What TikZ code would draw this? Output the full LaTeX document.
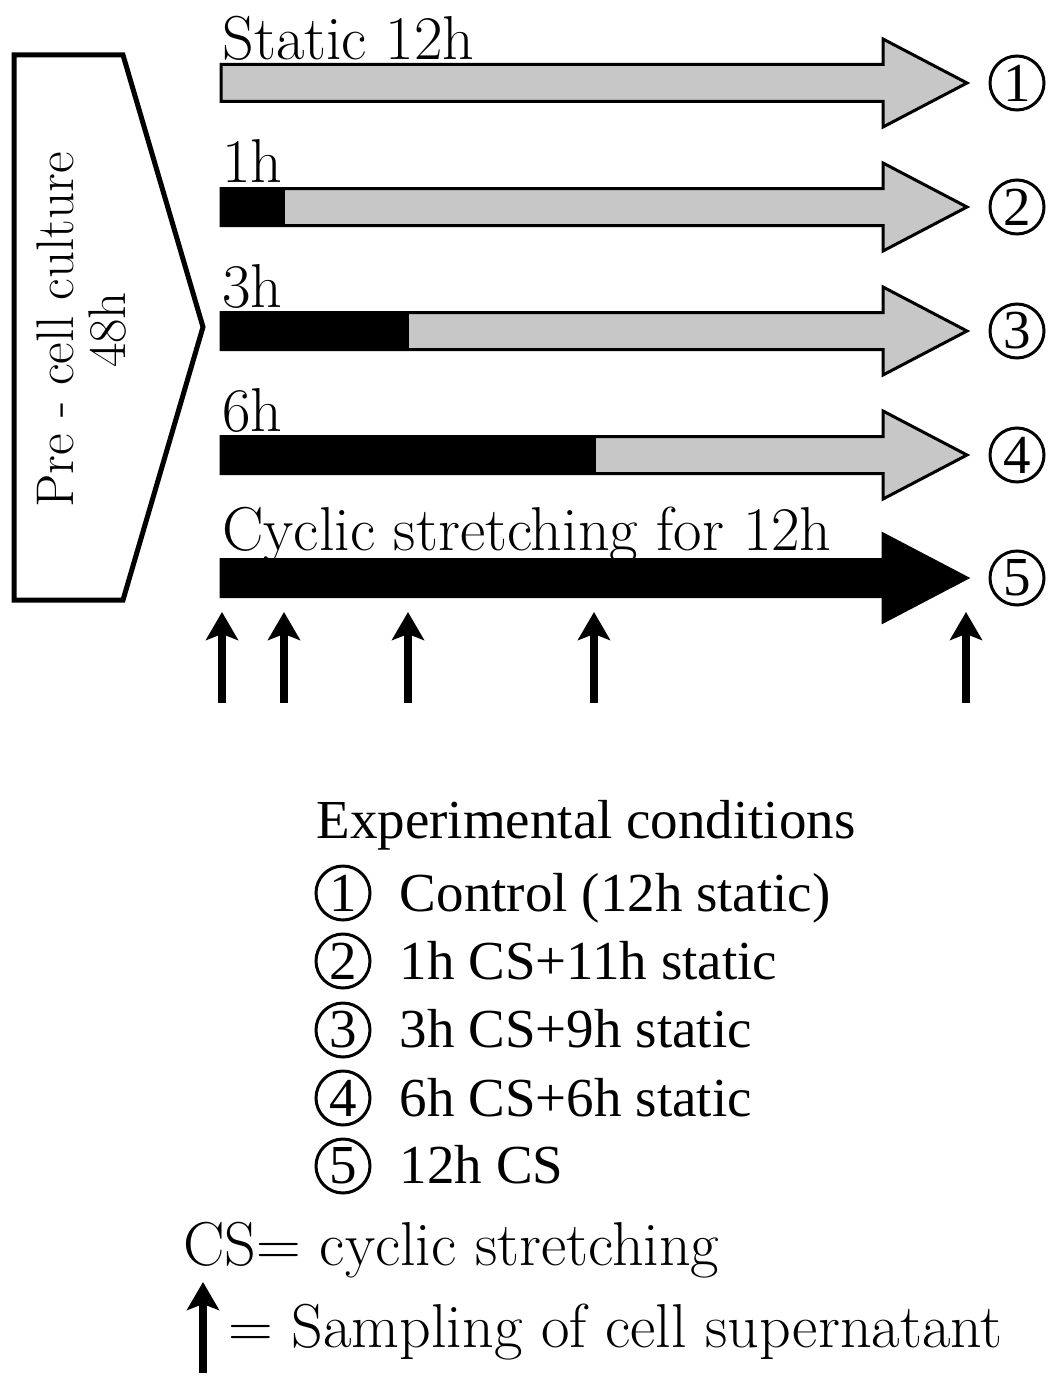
\documentclass[tikz,border=0pt]{standalone}
\usepackage{fontspec}
\newfontfamily\legendfont{Liberation Serif}
\usepackage{tikz}
\usetikzlibrary{arrows.meta,positioning,calc}
\definecolor{staticgray}{gray}{0.78}

\begin{document}
\begin{tikzpicture}[x=0.5pt,y=-0.5pt,
	big font/.style={font=\fontsize{31}{34}\selectfont},
	list font/.style={font=\legendfont\fontsize{27.5}{30}\selectfont},
	num node/.style={circle,draw,line width=1.5pt,inner sep=0pt,minimum size=27pt,list font},
	label node/.style={anchor=base west,inner sep=0pt,big font},
	bar line/.style={line width=1.5pt,line join=miter},
	sample/.style={line width=4pt,-{Stealth[length=14pt,width=16pt,inset=3pt]}}]

\useasboundingbox (0,0) rectangle (1063,1386);

% pre culture
\draw[line width=2.5pt,line join=miter] (14,55) -- (123,55) -- (203,327) -- (123,600) -- (14,600) -- cycle;
\node[rotate=90,align=center,font=\fontsize{26.5}{26}\selectfont] (pre) at (82,330) {Pre - cell culture\\48h};

% stretching bars
\foreach \n/\y/\cut/\fil/\up/\lab in {1/83/221/staticgray/23/Static 12h,
	2/207/285/staticgray/24/1h,
	3/331/409/staticgray/24/3h,
	4/455/596/staticgray/24/6h,
	5/578/221/black/28/Cyclic stretching for 12h}{
	\filldraw[bar line,fill=\fil] (221,\y-18.5) -- (883,\y-18.5) -- (883,\y-44) -- (967,\y)
		-- (883,\y+44) -- (883,\y+18.5) -- (221,\y+18.5) -- cycle;
	\fill (221,\y-18.5) rectangle (\cut,\y+18.5);
	\node[label node] (lab\n) at (222,\y-\up) {\lab};
	\node[num node] (c\n) at (1017,\y) {\n};
}

% sampling times
\foreach \h [count=\i] in {0,1,3,6,12}{
	\coordinate (foot\i) at (222+62*\h,703);
	\coordinate (tip\i) at (222+62*\h,612);
	\draw[sample] (foot\i) -- (tip\i);
}

% legend
\node[label node,list font] (cond) at (316,838) {Experimental conditions};
\foreach \n/\y/\txt in {1/893/Control (12h static),
	2/961/1h CS+11h static,
	3/1030/3h CS+9h static,
	4/1098/6h CS+6h static,
	5/1166/12h CS}{
	\node[num node] (k\n) at (343,\y) {\n};
	\node[label node,list font,base right=14pt of k\n] (t\n) {\txt};
}

\node[label node] (cs) at (183,1265) {CS= cyclic stretching};
\coordinate (keyfoot) at (203,1373);
\coordinate (keytip) at (203,1282);
\draw[sample] (keyfoot) -- (keytip);
\node[label node] (key) at (228,1347) {= Sampling of cell supernatant};

\end{tikzpicture}
\end{document}
